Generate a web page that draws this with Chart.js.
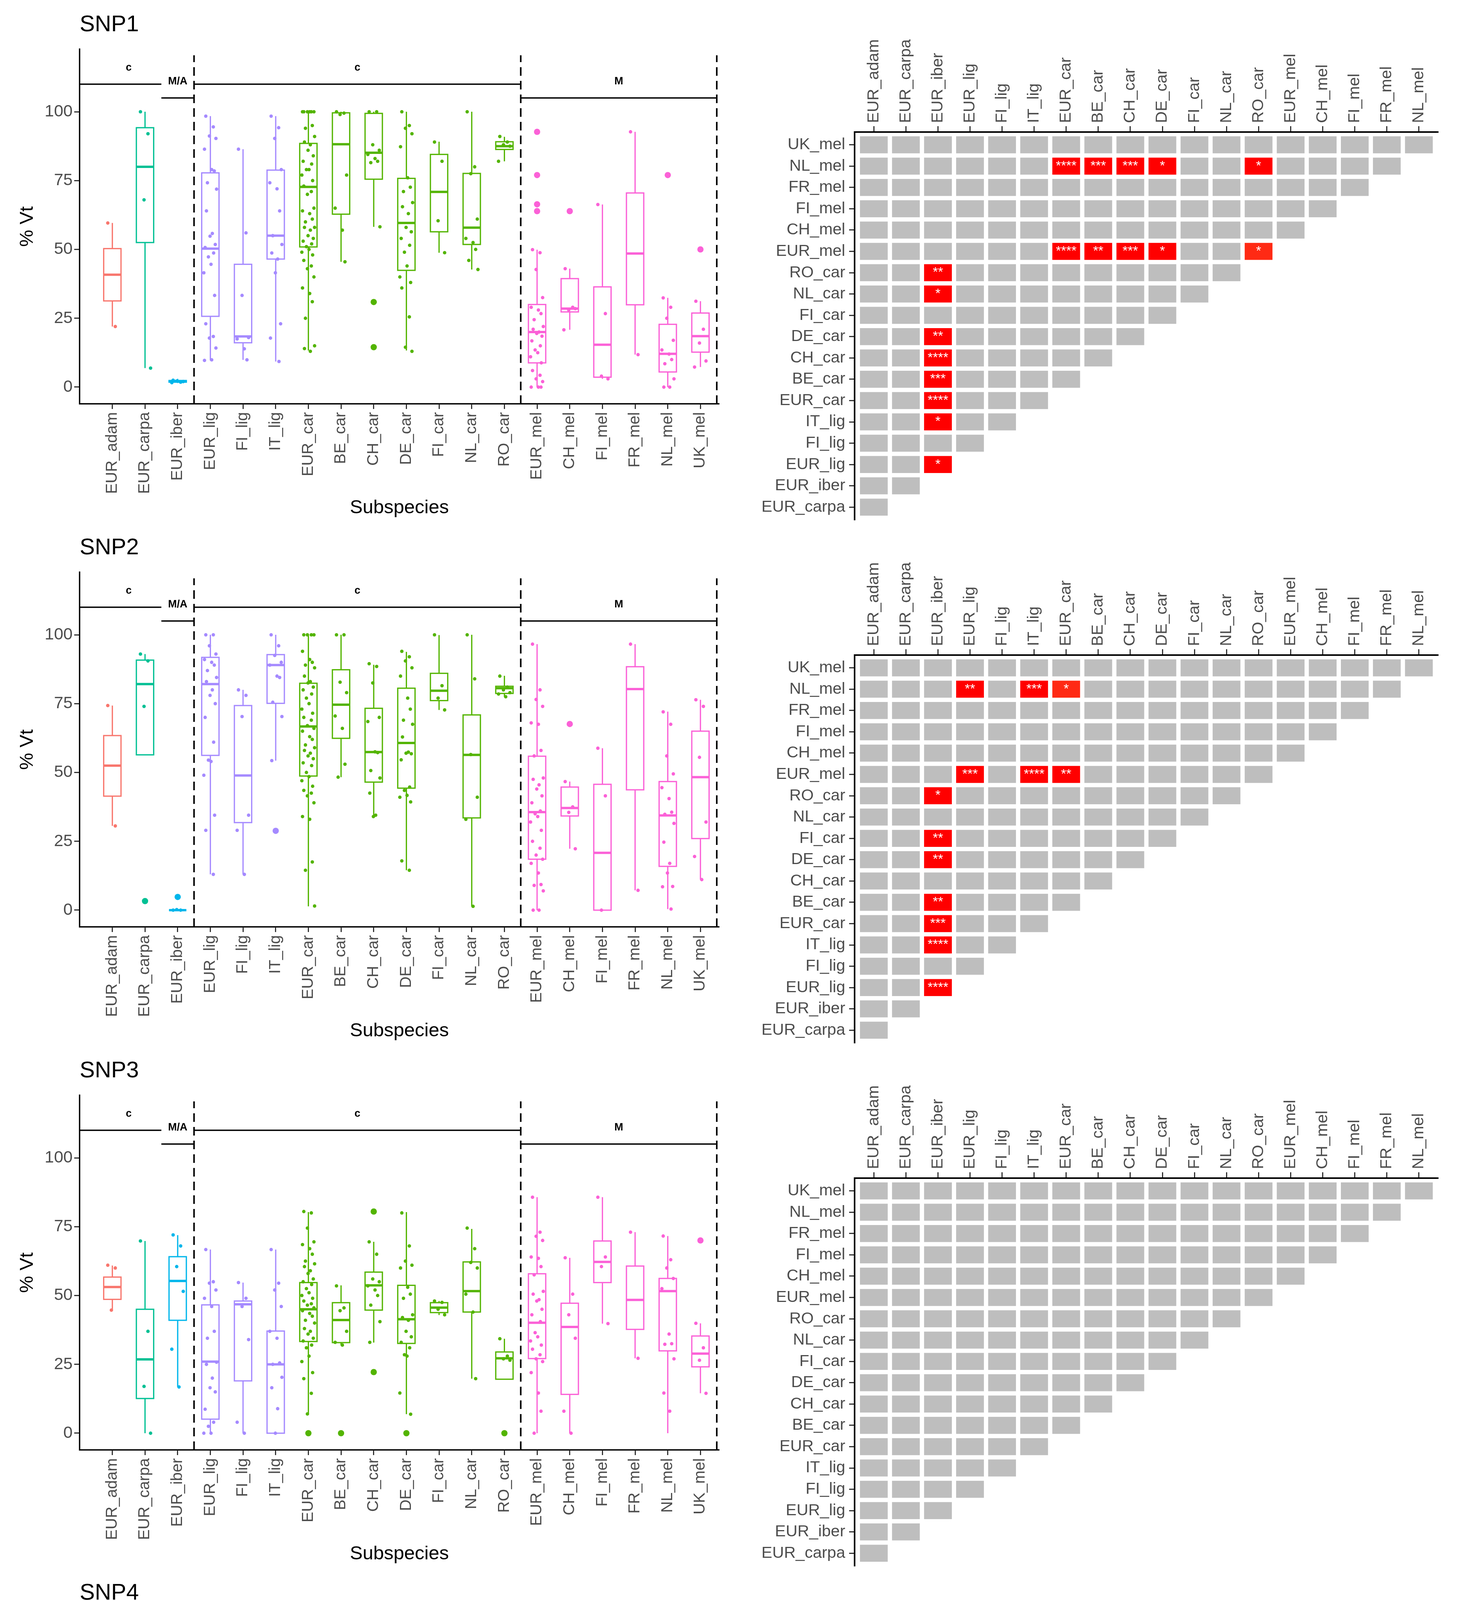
<!DOCTYPE html>
<html>
<head>
<meta charset="utf-8">
<script src="https://cdn.jsdelivr.net/npm/chart.js@4.4.1/dist/chart.umd.min.js"></script>
<style>
  html, body { margin: 0; padding: 0; background: #fff; }
  body { width: 3738px; height: 5418px; position: relative; overflow: hidden; }
  canvas { position: absolute; }
</style>
</head>
<body>
<script>
// ---- categories ----
const GROUPS = ['EUR_adam','EUR_carpa','EUR_iber','EUR_lig','FI_lig','IT_lig','EUR_car','BE_car','CH_car','DE_car','FI_car','NL_car','RO_car','EUR_mel','CH_mel','FI_mel','FR_mel','NL_mel','UK_mel'];
const LINEAGE = ['adam','carpa','iber','lig','lig','lig','car','car','car','car','car','car','car','mel','mel','mel','mel','mel','mel'];
const CLADES = [['c', 0, 1], ['M/A', 2, 2], ['c', 3, 12], ['M', 13, 18]];
const Y_TICKS = [0, 25, 50, 75, 100];

// ---- SNP1 ----  box = [lower whisker, q1, median, q3, upper whisker]
const SNP1_BOX = [[22,31.3,40.8,50.3,59.6],[6.9,52.5,80,94.2,100],[1.5,1.8,2.1,2.4,3],[9.7,25.7,50.3,77.8,98.4],[9.9,16.1,18.4,44.6,86.4],[9.3,46.5,55,78.8,98.4],[13.3,50.9,72.7,88.5,100],[45.5,62.8,88.2,99.6,100],[58.2,75.5,85.1,99.4,100],[13.3,42.4,59.6,75.8,100],[48.8,56.4,70.9,84.5,89.1],[42.7,51.8,57.9,77.6,100],[82,86.3,87.5,89.1,90.9],[0,8.8,20,30,49.9],[20.8,27.3,28.5,39.4,43],[3,3.6,15.4,36.4,66.3],[11.8,29.9,48.5,70.5,92.7],[0,5.5,12.1,22.8,32.4],[7.3,12.7,18.5,26.9,31.2]];
const SNP1_OUT = [[],[],[],[],[],[],[],[],[30.9,14.5],[],[],[],[],[92.7,77,66.4,63.9],[63.9],[],[],[77],[50]];
const SNP1_PTS = [
  [59.6,22],
  [100,92,68,6.9],
  [2.5,1.8,2.2,2.0,1.6],
  [98.4,94.5,91.2,90.3,86.4,79,78.5,74.2,71.9,64,55.8,54.8,51.8,50.7,48.7,47.3,44.6,41.5,33.3,23,18.4,17.8,14.2,9.7,9.9],
  [86.4,56,33.3,18,17.5,13.9,9.9],
  [98.4,94.2,90.3,79,74.2,72,64,55,51.8,48.7,46.5,41.5,23,17.8,9.3],
  [100,100,100,100,100,100,95,94,91,89,88,86,84,82,81,79,79,77,75,73,71,70,65,64,63,61,60,58,58,57,55,54,53,52,51,50,49,48,46,44,43,40,36,34,31,25,15,14,13],
  [100,99.5,99,77,65,57,45.5],
  [100,100,88,86,84.5,83,82,81.5,58.2],
  [100,95,94,92,87.3,76,72.6,71,67,65.5,63,58,56.4,54,51.5,49,44,40,38,36,25.5,14.5,13],
  [89,82,60.4,48.8],
  [100,80,77.5,61,54,52.5,50,46,42.7],
  [91,89,88,87.5,82],
  [49.9,48.8,42.7,32.5,29,28,26.7,24.5,22,21,20,19.5,18.5,16.8,15,13.5,12.5,11,8.8,6,4.3,3,2,0,0,0],
  [43,29,28,28.5,20.8],
  [66.3,26.7,4,3],
  [92.7,11.8],
  [32.4,29,25,17,13.5,12,10,8.5,3,0,0],
  [31.2,21,16,9.5,7.3]
];
// significant pairs: [row group, column group, stars, borderline]
const SNP1_SIG = [
  ['NL_mel','EUR_car','****'],['NL_mel','BE_car','***'],['NL_mel','CH_car','***'],['NL_mel','DE_car','*'],['NL_mel','RO_car','*'],
  ['EUR_mel','EUR_car','****'],['EUR_mel','BE_car','**'],['EUR_mel','CH_car','***'],['EUR_mel','DE_car','*'],['EUR_mel','RO_car','*',true],
  ['RO_car','EUR_iber','**'],['NL_car','EUR_iber','*'],['DE_car','EUR_iber','**'],['CH_car','EUR_iber','****'],
  ['BE_car','EUR_iber','***'],['EUR_car','EUR_iber','****'],['IT_lig','EUR_iber','*'],['EUR_lig','EUR_iber','*']
];

// ---- SNP2 ----
const SNP2_BOX = [[30.6,41.4,52.5,63.4,74.3],[56.4,56.4,82.1,90.8,93],[0,0,0,0,0],[13,56.2,82.1,91.8,100],[13,31.8,48.9,74.3,80],[54.3,75.1,89,92.8,100],[1.4,48.7,66.7,82.4,100],[48.3,62.4,74.6,87.3,100],[34.1,46.5,57.4,73.3,89.1],[14.5,44.3,60.7,80.6,93.8],[72.7,76.1,79.7,86,99.9],[1.4,33.5,56.4,70.9,100],[77.5,78.7,80.6,81.3,85.1],[0,18.5,35.6,55.9,96.6],[22.3,34.2,37.1,44.7,46.7],[0,0,20.8,45.7,58.8],[7.2,43.7,80.3,88.4,96.6],[0.4,15.9,34.4,46.7,72.1],[11.1,26,48.3,65,76.4]];
const SNP2_OUT = [[],[3.3],[4.8],[],[],[28.8],[],[],[],[],[],[],[],[],[67.6],[],[],[],[]];
const SNP2_PTS = [
  [74.3,30.6],
  [93,90.5,74],
  [0,0,0.2],
  [100,100,96,93,91,90,89,87,84.5,83,80,78,75,70,61,54.5,54,49,34.5,29,13],
  [80,78,70.3,34.5,29,13],
  [100,96,92.5,90,89,85,84.5,75.5,70.3,54.3],
  [100,100,100,100,94,91,90,89,88,85,83,82.5,81,80,78.5,77,75,73,71.5,70,69,67,66,65,63,62,60,59,58,57,56,55,53.5,52.5,50,48.5,47,45,43.5,42.5,41.5,39,34,33,17.5,14.5,1.5],
  [100,100,82.8,79,70.5,66,53,48.3],
  [89.5,88.5,82.5,70,68.5,57.5,57.2,50.7,48,42.5,34.5,34],
  [94,92,90.5,88,85,77,73,69,67.5,62.9,57.4,57,56.8,54.6,44.7,43.5,41.7,41,39.3,17.9,14.5],
  [100,81.5,77,72.7],
  [100,84,56.5,41,33,1.4],
  [85,81,80,79,78.5,77.5],
  [96.6,80,76.5,74,68,67.5,58,56,48,47.5,45.5,44,41.5,39,36,35,34,32,29,25,22.5,20,18.5,17,13.5,9.3,9,7,0,0],
  [46.7,37.5,35.5,22.3],
  [58.8,41.5,0],
  [96.6,7.2],
  [72,67.5,56,49.5,44.5,40.5,35.6,34.8,31.5,24.7,17,13.5,8.6,8.5,0.4],
  [76.4,74,55.5,32,19.5,11.1]
];
const SNP2_SIG = [
  ['NL_mel','EUR_lig','**'],['NL_mel','IT_lig','***'],['NL_mel','EUR_car','*',true],
  ['EUR_mel','EUR_lig','***'],['EUR_mel','IT_lig','****'],['EUR_mel','EUR_car','**'],
  ['RO_car','EUR_iber','*'],['FI_car','EUR_iber','**'],['DE_car','EUR_iber','**'],['BE_car','EUR_iber','**'],
  ['EUR_car','EUR_iber','***'],['IT_lig','EUR_iber','****'],['EUR_lig','EUR_iber','****']
];

// ---- SNP3 ----
const SNP3_BOX = [[44.7,48.6,53.1,56.7,60.9],[0,12.6,26.8,45,69.8],[16.8,41,55.3,64.1,71.9],[0,5.1,26,46.6,66.7],[0,19,46.8,48,54.7],[0,0,25,37.1,66.7],[6.9,33.3,45,54.7,80.3],[31.9,32.9,41.1,47.4,53.7],[32.9,44.7,53.7,58.5,69.5],[6.9,32.6,41.4,53.7,80.3],[42.9,43.8,45.6,47.4,48],[19.8,44,51.6,62.2,74.2],[19.6,19.6,27.2,29.5,34.3],[0,27.1,40.1,57.9,85.7],[0,14.1,38.6,47.2,63.7],[39.8,54.7,62.2,69.8,85.7],[27.2,37.7,48.4,60.7,73],[0,29.9,51.6,56.2,71.6],[14.5,24.1,28.9,35.3,39.9]];
const SNP3_OUT = [[],[],[],[],[],[],[0],[0],[80.5,22.2],[0],[],[],[0],[],[],[],[],[],[70]];
const SNP3_PTS = [
  [61,60,44.7],
  [69.8,37,17,0],
  [72,68,60.5,51.5,30.5,16.8],
  [66.7,55,54.5,52,49,46,37,34.5,25.8,25,20,16.5,15,8.7,4,2.5,0,0],
  [54.7,49,46,34,4,0],
  [66.7,54.5,52,46,37,34.5,25.5,25,20.3,16.5,8.9,0],
  [80.5,80,74.5,69.5,68.5,67,65,62.5,61.5,60.5,59,58,56,55,54,52.5,51,50,49,48,47,46.5,45.5,44.5,43.5,42.5,41,40,38,37,36,34.5,33.5,32,31,28,26,22,19.8,14.5,7],
  [53.5,45.5,44.5,37,33,32],
  [69.5,65,56,55,53.5,52,50,46.5,40.5,33],
  [80,68,62.5,61,60,53,50.5,49,43,42,41,37,35,33,31,28.5,28,14.6,6.9],
  [48,47.5,45,43],
  [74.5,67,62,60,50.5,44,19.8],
  [34.3,28,27,26.5],
  [85.7,73,71.5,70,64,63.5,60.5,57.5,51.5,50.5,48.5,48,45,43,40.5,36.5,35,33.5,32,30.5,28.5,27,26,22,14.6,8,0],
  [63.7,50.5,43,34.5,8,0],
  [85.7,64,60.5,39.8],
  [73,27.2],
  [71.6,63,60,56.2,52.5,36,32.5,32.3,27,14.6,8],
  [39.9,31,26.5,14.5]
];
const SNP3_SIG = [];

// ---- SNP4 ----
const SNP4_BOX = [[26.7,35.4,44.5,53,61.9],[43.5,59.6,68.1,73.5,80.7],[13.7,22.4,30.4,42.5,48.7],[31.4,50.1,60.9,75.5,88.8],[34.2,40.7,59.4,62.1,66.1],[31.4,52.8,63.4,76.8,88.8],[8.1,42.2,63,75.8,100],[57.1,58.6,64.6,74.2,78.6],[51.6,68.9,75.5,91.6,100],[8.1,33.8,51.2,68,100],[45.3,57.1,69.8,81.4,91.3],[13.3,40.7,56.3,63.6,69.8],[8.7,27.3,48.4,63.6,66.1],[18.4,33.9,47.8,67.3,100],[21.1,32.5,70.6,75.2,76.4],[34.4,41,48.1,52.4,53],[54.3,55.3,56.5,66.1,75.4],[18.4,32.5,45.7,64,100],[30,33.5,45.6,52.4,71.7]];
const SNP4_OUT = [[],[],[],[],[],[],[],[26.7],[],[],[],[100],[],[],[],[],[],[],[]];
const SNP4_PTS = [
  [62,26.7],
  [80.7,71,65.5,43.5],
  [48.7,45,40,30,29.5,14.8,13.7],
  [89,86,83.5,79,76.5,75.5,74,66,63,59.5,55,53,50,44.5,37,34.5,31.5],
  [66,63,60.5,44.5,37,34.2],
  [89,86.5,83.5,79,76,74,63.5,61,55,54.5,51,50,37,31.4],
  [100,100,100,100,98.5,91.5,89.5,86.5,82,79,77.5,76,74,72,71,70,68,66.5,65,64,63,62,61,60,58,56.5,55,54,51.5,49,48,45.5,44,42.5,41,34,33,29,27,23,13,12,9,8],
  [78.6,75.5,74,64.5,63.5,59.5,57],
  [100,100,98.5,89.5,79,71.5,70.5,64.5,61,51.6],
  [100,91.6,86,82,76.5,68,63.5,62.5,61.5,56.5,49.5,48.5,42,33.8,33.5,27.5,23,12.5,8.1],
  [91.3,78.5,61.5,45.3],
  [69.8,63.5,60,43,29.5,13.3],
  [66,63,34.5,8.7],
  [100,75.5,75,74.5,68.5,67.5,60.5,57,54.5,53.5,52,50,48,47,46,44.5,42,35,34,32.5,30.5,27.5,23,21,18.4],
  [76.4,75,66,21.1],
  [53,52,43.5,34.4],
  [75.4,56.5,55.5,54.3],
  [100,75.5,68.5,60.5,47.5,46.5,44,34.5,33.5,31.5,26.5,23,18.4],
  [71.7,53.5,52,34.5,33,30]
];
const SNP4_SIG = [['EUR_mel','CH_car','*'],['CH_car','EUR_iber','**']];

// ---- styling ----
const COLORS = { adam: '#F8766D', carpa: '#00C094', iber: '#00B6EB', lig: '#A58AFF', car: '#53B400', mel: '#FB61D7' };
const JITTER = [-0.14, 0.09, -0.03, 0.17, -0.18, 0.04, 0.12, -0.09, 0.19, -0.12, 0.06, -0.01, 0.15, -0.16, 0.1, -0.06, 0.02, -0.2, 0.13];
const SANS = '"Liberation Sans", Arial, sans-serif';
const ROW_TOP = [0, 1339, 2678, 4015];
const BOX_HALF = 0.265;
const DIVIDERS = [2.5, 12.5, 18.5];
const CLADE_Y = { 'c': 110, 'M/A': 105, 'M': 105 };
const HEAT_FONT = 41.5;

Chart.defaults.font.family = SANS;

const boxPlugin = {
  id: 'boxes',
  beforeDatasetsDraw(chart, args, opts) {
    if (!opts.stats) return;
    const { ctx, scales: { x, y } } = chart;
    ctx.save();
    opts.stats.forEach((s, i) => {
      const col = COLORS[LINEAGE[i]];
      const xl = x.getPixelForValue(i - BOX_HALF), xr = x.getPixelForValue(i + BOX_HALF), xc = x.getPixelForValue(i);
      const [lo, q1, md, q3, hi] = s.map(v => y.getPixelForValue(v));
      ctx.strokeStyle = col;
      ctx.lineWidth = 3.2;
      ctx.beginPath();
      ctx.moveTo(xc, hi); ctx.lineTo(xc, q3);
      ctx.moveTo(xc, q1); ctx.lineTo(xc, lo);
      ctx.stroke();
      ctx.strokeRect(xl, q3, xr - xl, q1 - q3);
      ctx.lineWidth = 6;
      ctx.beginPath(); ctx.moveTo(xl, md); ctx.lineTo(xr, md); ctx.stroke();
    });
    ctx.restore();
  }
};

const panelPlugin = {
  id: 'panel',
  afterDraw(chart, args, opts) {
    if (!opts.title) return;
    const { ctx, chartArea: a, scales: { x, y } } = chart;
    ctx.save();
    // clade bars and labels
    ctx.strokeStyle = '#000';
    ctx.fillStyle = '#000';
    ctx.lineWidth = 3.4;
    ctx.textAlign = 'center';
    ctx.textBaseline = 'middle';
    CLADES.forEach(([lab, first, last]) => {
      const yv = CLADE_Y[lab];
      const x0 = first === 0 ? x.getPixelForValue(x.min) : x.getPixelForValue(first - 0.5);
      const x1 = x.getPixelForValue(last + 0.5);
      ctx.beginPath();
      ctx.moveTo(x0, y.getPixelForValue(yv));
      ctx.lineTo(x1, y.getPixelForValue(yv));
      ctx.stroke();
      ctx.font = 'bold 27px ' + SANS;
      ctx.fillText(lab, x.getPixelForValue((first + last) / 2), y.getPixelForValue(yv + 6));
    });
    // dashed dividers
    ctx.setLineDash([22, 13]);
    ctx.lineWidth = 4;
    DIVIDERS.forEach(d => {
      ctx.beginPath();
      ctx.moveTo(x.getPixelForValue(d), a.bottom);
      ctx.lineTo(x.getPixelForValue(d), y.getPixelForValue(120.5));
      ctx.stroke();
    });
    ctx.setLineDash([]);
    // titles
    ctx.textAlign = 'left';
    ctx.font = '58px ' + SANS;
    ctx.fillText(opts.title, a.left, 64);
    ctx.textAlign = 'center';
    ctx.font = '49px ' + SANS;
    ctx.fillText('Subspecies', (a.left + a.right) / 2, a.bottom + 266);
    ctx.translate(70, (a.top + a.bottom) / 2);
    ctx.rotate(-Math.PI / 2);
    ctx.fillText('% Vt', 0, 0);
    ctx.restore();
  }
};

const cellPlugin = {
  id: 'cells',
  beforeDatasetsDraw(chart, args, opts) {
    if (!opts.on) return;
    const { ctx, scales: { x, y } } = chart;
    const w = x.getPixelForValue(1) - x.getPixelForValue(0) - 11;
    const h = Math.abs(y.getPixelForValue(1) - y.getPixelForValue(0)) - 11;
    ctx.save();
    chart.data.datasets[0].data.forEach(c => {
      const cx = x.getPixelForValue(c.x), cy = y.getPixelForValue(c.y);
      ctx.fillStyle = c.label ? (c.weak ? '#FF2A14' : '#FF0000') : '#BEBEBE';
      ctx.fillRect(cx - w / 2, cy - h / 2, w, h);
      if (c.label) {
        ctx.fillStyle = '#FFFFFF';
        ctx.font = '34px ' + SANS;
        ctx.textAlign = 'center';
        ctx.textBaseline = 'middle';
        ctx.fillText(c.label, cx, cy);
      }
    });
    ctx.restore();
  }
};

function makeCanvas(left, top, w, h) {
  const c = document.createElement('canvas');
  c.width = w; c.height = h;
  c.style.left = left + 'px'; c.style.top = top + 'px';
  c.style.width = w + 'px'; c.style.height = h + 'px';
  document.body.appendChild(c);
  return c;
}

function boxChart(row, title, stats, outs, pts) {
  const h = row === 3 ? 5418 - ROW_TOP[row] : 1340;
  const canvas = makeCanvas(0, ROW_TOP[row], 1880, h);
  const datasets = [];
  GROUPS.forEach((g, i) => {
    const col = COLORS[LINEAGE[i]];
    datasets.push({
      label: g,
      data: pts[i].map((v, k) => ({ x: i + JITTER[k % JITTER.length], y: v })),
      backgroundColor: col, borderWidth: 0, pointRadius: 4.4
    });
    if (outs[i].length) {
      datasets.push({
        label: g + ' outliers',
        data: outs[i].map(v => ({ x: i, y: v })),
        backgroundColor: col, borderWidth: 0, pointRadius: 8
      });
    }
  });
  new Chart(canvas, {
    type: 'scatter',
    data: { datasets },
    options: {
      responsive: false, animation: false, devicePixelRatio: 1,
      layout: { padding: { left: 0, top: 126, right: 39, bottom: 0 } },
      plugins: {
        legend: { display: false }, tooltip: { enabled: false },
        boxes: { stats }, panel: { title }
      },
      scales: {
        x: {
          type: 'linear', min: -1, max: 18.57,
          afterBuildTicks: s => { s.ticks = GROUPS.map((g, i) => ({ value: i })); },
          afterFit: s => { s.height = h - 1034; s.paddingLeft = 0; s.paddingRight = 0; },
          ticks: { autoSkip: false, minRotation: 90, maxRotation: 90, padding: 8, color: '#4D4D4D', font: { family: SANS, size: 40.5 }, callback: v => GROUPS[v] },
          grid: { drawOnChartArea: false, tickLength: 13, tickWidth: 3, tickColor: '#333333' },
          border: { color: '#000', width: 3.5 }
        },
        y: {
          min: -6.1, max: 122.7,
          afterBuildTicks: s => { s.ticks = Y_TICKS.map(v => ({ value: v })); },
          afterFit: s => { s.width = 204; s.paddingTop = 0; s.paddingBottom = 0; },
          ticks: { padding: 4, color: '#4D4D4D', font: { family: SANS, size: 43 } },
          grid: { drawOnChartArea: false, tickLength: 14, tickWidth: 3, tickColor: '#333333' },
          border: { color: '#000', width: 3.5 }
        }
      }
    },
    plugins: [boxPlugin, panelPlugin]
  });
}

function heatChart(row, sig) {
  const canvas = makeCanvas(1880, ROW_TOP[row], 1858, 1340);
  const cells = [];
  for (let r = 1; r < GROUPS.length; r++) {
    for (let c = 0; c < r; c++) {
      const hit = sig.find(s => s[0] === GROUPS[r] && s[1] === GROUPS[c]);
      cells.push({ x: c, y: r - 1, label: hit ? hit[2] : '', weak: !!(hit && hit[3]) });
    }
  }
  const labFont = { family: SANS, size: HEAT_FONT };
  new Chart(canvas, {
    type: 'scatter',
    data: { datasets: [{ label: 'pairs', data: cells, pointRadius: 0, pointHoverRadius: 0 }] },
    options: {
      responsive: false, animation: false, devicePixelRatio: 1,
      layout: { padding: { left: 0, top: 0, right: 56, bottom: 9 } },
      plugins: { legend: { display: false }, tooltip: { enabled: false }, cells: { on: true } },
      scales: {
        x: {
          type: 'linear', position: 'top', min: -0.6, max: 17.6,
          afterBuildTicks: s => { s.ticks = GROUPS.slice(0, 18).map((g, i) => ({ value: i })); },
          afterFit: s => { s.height = 338; s.paddingLeft = 0; s.paddingRight = 0; },
          ticks: { autoSkip: false, minRotation: 90, maxRotation: 90, padding: 8, labelOffset: HEAT_FONT * 1.2,
                   color: '#4D4D4D', font: labFont, callback: v => GROUPS[v] },
          grid: { drawOnChartArea: false, tickLength: 15, tickWidth: 3, tickColor: '#333333' },
          border: { color: '#000', width: 4 }
        },
        y: {
          type: 'linear', min: -0.6, max: 17.6,
          afterBuildTicks: s => { s.ticks = GROUPS.slice(1).map((g, i) => ({ value: i })); },
          afterFit: s => { s.width = 308; s.paddingTop = 0; s.paddingBottom = 0; },
          ticks: { autoSkip: false, padding: 10, color: '#4D4D4D', font: labFont, callback: v => GROUPS[v + 1] },
          grid: { drawOnChartArea: false, tickLength: 14, tickWidth: 3, tickColor: '#333333' },
          border: { color: '#000', width: 4 }
        }
      }
    },
    plugins: [cellPlugin]
  });
}

boxChart(0, 'SNP1', SNP1_BOX, SNP1_OUT, SNP1_PTS);
boxChart(1, 'SNP2', SNP2_BOX, SNP2_OUT, SNP2_PTS);
boxChart(2, 'SNP3', SNP3_BOX, SNP3_OUT, SNP3_PTS);
boxChart(3, 'SNP4', SNP4_BOX, SNP4_OUT, SNP4_PTS);
heatChart(0, SNP1_SIG);
heatChart(1, SNP2_SIG);
heatChart(2, SNP3_SIG);
heatChart(3, SNP4_SIG);
</script>
</body>
</html>
